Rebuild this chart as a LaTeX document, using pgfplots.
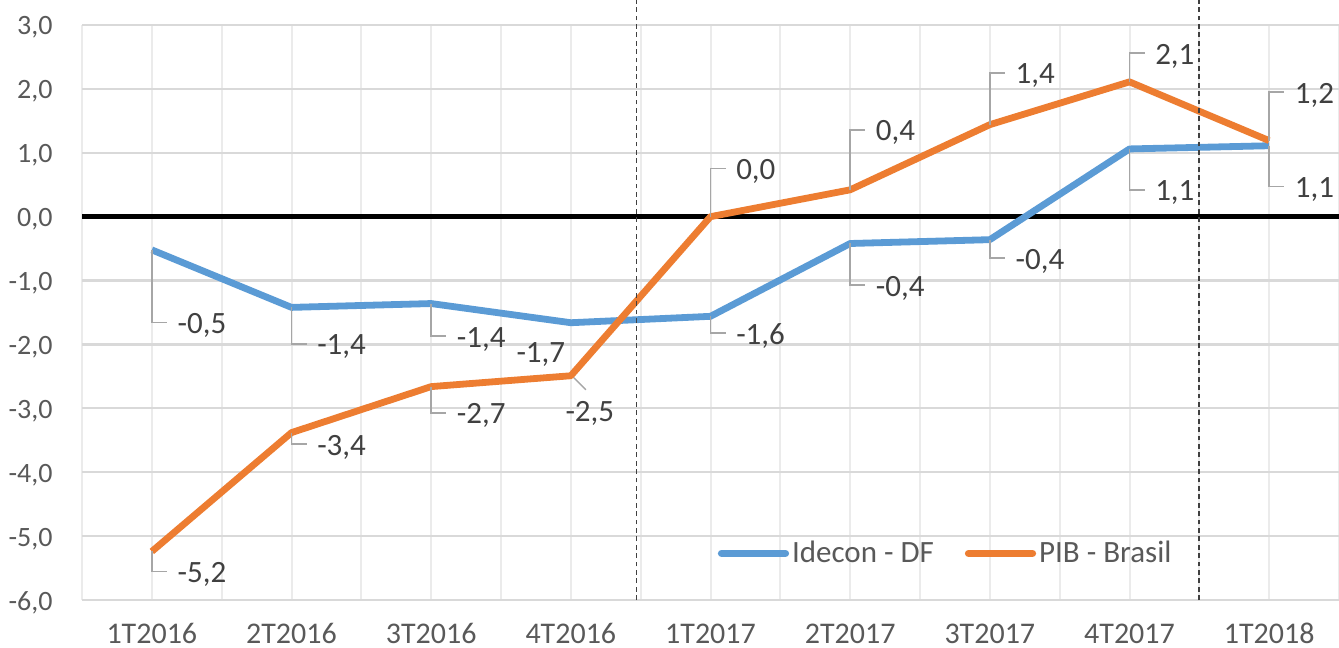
\documentclass[border=0pt]{standalone}
\usepackage{pgfplots}
\pgfplotsset{compat=1.18}
\usepackage{pgfplotstable}
\usepackage{fontspec}
\setmainfont{Carlito}
\usetikzlibrary{calc}
\definecolor{sblue}{HTML}{5B9BD5}
\definecolor{sorange}{HTML}{ED7D31}
\definecolor{tickgray}{HTML}{595959}
\definecolor{lblgray}{HTML}{404040}
\definecolor{leadgray}{HTML}{A6A6A6}
\definecolor{hgrid}{HTML}{D9D9D9}
\definecolor{vgrid}{HTML}{EBEBEB}
\pgfplotstableread{
x idecon pib
0 -0.52 -5.24
1 -1.42 -3.38
2 -1.36 -2.66
3 -1.66 -2.49
4 -1.56 0.00
5 -0.42 0.42
6 -0.36 1.44
7 1.06 2.11
8 1.11 1.19
}\datatable
\begin{document}
\begin{tikzpicture}[
  lead/.style={leadgray, line width=0.75pt},
  lbl/.style={font=\fontsize{15.5}{18}\selectfont, text=lblgray, anchor=west, inner sep=0pt, xshift=5pt, yshift=-1.5pt},
  lblc/.style={font=\fontsize{15.5}{18}\selectfont, text=lblgray, anchor=center, inner sep=0pt}
]
\begin{axis}[
  scale only axis, width=628.5pt, height=287.5pt,
  xmin=-0.5, xmax=8.5, ymin=-6, ymax=3,
  xtick={0,...,8},
  xticklabels={1T2016,2T2016,3T2016,4T2016,1T2017,2T2017,3T2017,4T2017,1T2018},
  minor xtick={-0.5,0.5,1.5,2.5,3.5,4.5,5.5,6.5,7.5,8.5},
  ytick={-6,-5,-4,-3,-2,-1,0,1,2,3},
  yticklabels={{-6,0},{-5,0},{-4,0},{-3,0},{-2,0},{-1,0},{0,0},{1,0},{2,0},{3,0}},
  axis line style={draw=none},
  major tick length=0pt, minor tick length=0pt,
  xmajorgrids, xminorgrids, ymajorgrids,
  major x grid style={vgrid, line width=1pt},
  minor x grid style={vgrid, line width=1pt},
  major y grid style={hgrid, line width=1.1pt},
  xticklabel style={font=\fontsize{15}{17}\selectfont, text=tickgray, anchor=base, inner sep=0pt, yshift=-21.5pt},
  yticklabel style={font=\fontsize{14}{16}\selectfont, text=tickgray, anchor=base east, inner sep=0pt, xshift=-14.5pt, yshift=-5pt},
  clip=false,
  legend style={draw=none, fill=none, at={(axis cs:4.05,-5.27)}, anchor=west, inner sep=0pt,
    font=\fontsize{15.5}{18}\selectfont, text=tickgray,
    nodes={inner sep=1.5pt},
    /tikz/every even column/.append style={column sep=14pt}},
  legend columns=2,
  legend image code/.code={\draw[#1, line cap=round, line width=3.6pt] (0pt,0pt) -- (32pt,0pt);},
]
\draw[black, line width=2.3pt] (axis cs:-0.5,0) -- (axis cs:8.5,0);
\addplot[sblue, line width=3.4pt, line join=round] table[x=x, y=idecon] {\datatable};
\addlegendentry{Idecon - DF}
\addplot[sorange, line width=3.4pt, line join=round] table[x=x, y=pib] {\datatable};
\addlegendentry{PIB - Brasil}
\draw[black!75, line width=0.9pt, dash pattern=on 2.4pt off 1.8pt] (axis cs:3.47,-6) -- (axis cs:3.47,3.39);
\draw[black!75, line width=0.9pt, dash pattern=on 2.4pt off 1.8pt] (axis cs:7.5,-6) -- (axis cs:7.5,3.39);
% Idecon labels
\draw[lead] (axis cs:0,-0.52) -- (axis cs:0,-1.66) -- ++(7.5pt,0pt) node[lbl]{-0,5};
\draw[lead] (axis cs:1,-1.42) -- (axis cs:1,-1.99) -- ++(7.5pt,0pt) node[lbl]{-1,4};
\draw[lead] (axis cs:2,-1.36) -- (axis cs:2,-1.87) -- ++(7.5pt,0pt) node[lbl]{-1,4};
\node[lblc] at ($(axis cs:3,-1.66)+(-15pt,-16pt)$) {-1,7};
\draw[lead] (axis cs:4,-1.56) -- (axis cs:4,-1.82) -- ++(7.5pt,0pt) node[lbl]{-1,6};
\draw[lead] (axis cs:5,-0.42) -- (axis cs:5,-1.07) -- ++(7.5pt,0pt) node[lbl]{-0,4};
\draw[lead] (axis cs:6,-0.36) -- (axis cs:6,-0.65) -- ++(7.5pt,0pt) node[lbl]{-0,4};
\draw[lead] (axis cs:7,1.06) -- (axis cs:7,0.42) -- ++(7.5pt,0pt) node[lbl]{1,1};
\draw[lead] (axis cs:8,1.11) -- (axis cs:8,0.47) -- ++(7.5pt,0pt) node[lbl]{1,1};
% PIB labels
\draw[lead] (axis cs:0,-5.24) -- (axis cs:0,-5.55) -- ++(7.5pt,0pt) node[lbl]{-5,2};
\draw[lead] (axis cs:1,-3.38) -- (axis cs:1,-3.56) -- ++(7.5pt,0pt) node[lbl]{-3,4};
\draw[lead] (axis cs:2,-2.66) -- (axis cs:2,-3.07) -- ++(7.5pt,0pt) node[lbl]{-2,7};
\draw[lead] ($(axis cs:3,-2.49)+(1.5pt,-1pt)$) -- ++(6pt,-6pt);
\node[lblc] at ($(axis cs:3,-2.49)+(9.5pt,-19pt)$) {-2,5};
\draw[lead] (axis cs:4,0) -- (axis cs:4,0.75) -- ++(7.5pt,0pt) node[lbl]{0,0};
\draw[lead] (axis cs:5,0.42) -- (axis cs:5,1.36) -- ++(7.5pt,0pt) node[lbl]{0,4};
\draw[lead] (axis cs:6,1.44) -- (axis cs:6,2.25) -- ++(7.5pt,0pt) node[lbl]{1,4};
\draw[lead] (axis cs:7,2.11) -- (axis cs:7,2.56) -- ++(7.5pt,0pt) node[lbl]{2,1};
\draw[lead] (axis cs:8,1.19) -- (axis cs:8,1.95) -- ++(7.5pt,0pt) node[lbl]{1,2};
\end{axis}
\pgfresetboundingbox
\path[use as bounding box] ($(current axis.south west)+(-41pt,-23.5pt)$) rectangle ($(current axis.north east)+(0pt,12.5pt)$);
\end{tikzpicture}
\end{document}
